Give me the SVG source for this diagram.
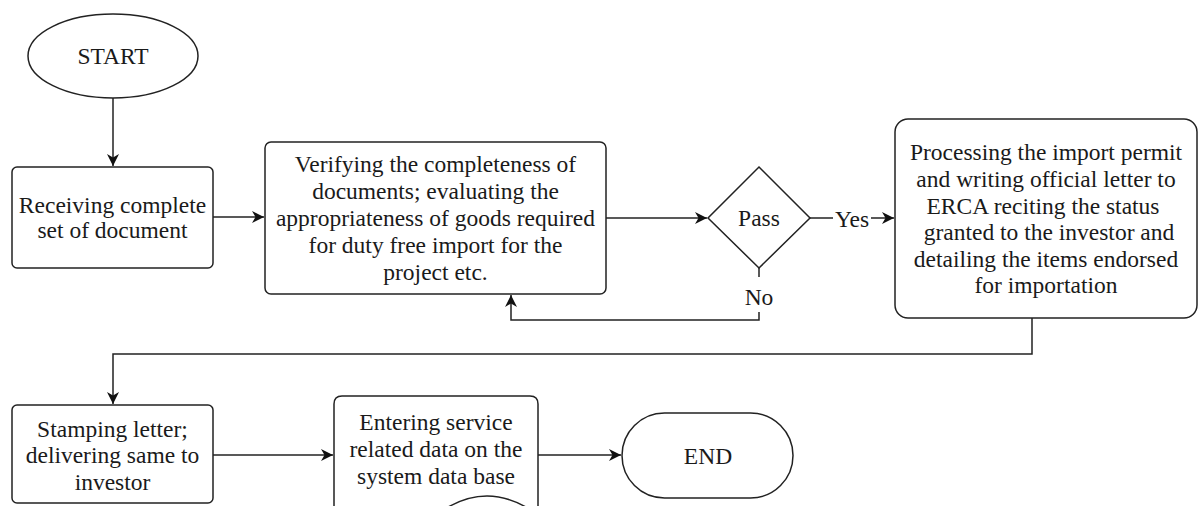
<svg xmlns="http://www.w3.org/2000/svg" width="1198" height="506" viewBox="0 0 1198 506">
<style>
.s{fill:#fff;stroke:#222;stroke-width:1.5}
.c{fill:none;stroke:#222;stroke-width:1.5}
text{font-family:"Liberation Serif","Times New Roman",serif;font-size:23.5px;fill:#1a1a1a;text-anchor:middle}
</style>
<defs>
<marker id="a" markerUnits="userSpaceOnUse" markerWidth="14" markerHeight="14" refX="12" refY="7" orient="auto">
<path d="M0,1 L12,7 L0,13 L3.5,7 Z" fill="#111"/>
</marker>
</defs>
<g id="connectors">
<path class="c" d="M113,98 V166" marker-end="url(#a)"/>
<path class="c" d="M213,217 H264" marker-end="url(#a)"/>
<path class="c" d="M606,218 H707" marker-end="url(#a)"/>
<path class="c" d="M810,218 H833"/>
<path class="c" d="M871,218 H894" marker-end="url(#a)"/>
<path class="c" d="M759,268 V277"/>
<path class="c" d="M759,312 V320 H511 V295" marker-end="url(#a)"/>
<path class="c" d="M1032,318 V354 H113 V404" marker-end="url(#a)"/>
<path class="c" d="M213,455 H333" marker-end="url(#a)"/>
<path class="c" d="M538,455 H621" marker-end="url(#a)"/>
<text x="852" y="227">Yes</text>
<text x="759" y="305">No</text>
</g>
<g id="start">
<ellipse class="s" cx="113" cy="56" rx="85" ry="42"/>
<text x="113" y="64">START</text>
</g>
<g id="receive">
<rect class="s" x="12" y="167" width="201" height="101" rx="5"/>
<text x="112.5" y="213">Receiving complete</text>
<text x="112.5" y="238">set of document</text>
</g>
<g id="verify">
<rect class="s" x="265" y="142" width="341" height="152" rx="6"/>
<text x="435.5" y="172">Verifying the completeness of</text>
<text x="435.5" y="199">documents; evaluating the</text>
<text x="435.5" y="226">appropriateness of goods required</text>
<text x="435.5" y="253">for duty free import for the</text>
<text x="435.5" y="280">project etc.</text>
</g>
<g id="pass">
<path class="s" d="M759,167 L810,218 L759,268 L708,218 Z"/>
<text x="759" y="226">Pass</text>
</g>
<g id="process">
<rect class="s" x="895" y="119" width="302" height="199" rx="13"/>
<text x="1046" y="160">Processing the import permit</text>
<text x="1046" y="187">and writing official letter to</text>
<text x="1043" y="214">ERCA reciting the status</text>
<text x="1049" y="240">granted to the investor and</text>
<text x="1046" y="267">detailing the items endorsed</text>
<text x="1046" y="293">for importation</text>
</g>
<g id="stamp">
<rect class="s" x="12" y="405" width="201" height="98" rx="5"/>
<text x="112.5" y="437">Stamping letter;</text>
<text x="112.5" y="463">delivering same to</text>
<text x="112.5" y="490">investor</text>
</g>
<g id="enter">
<path class="s" d="M342,396 H530 Q538,396 538,404 V515 Q487,477 436,515 Q385,553 334,515 V404 Q334,396 342,396 Z"/>
<text x="436" y="430">Entering service</text>
<text x="436" y="457">related data on the</text>
<text x="436" y="484">system data base</text>
</g>
<g id="end">
<rect class="s" x="622" y="413" width="171" height="85" rx="42.5"/>
<text x="708" y="464">END</text>
</g>
</svg>
